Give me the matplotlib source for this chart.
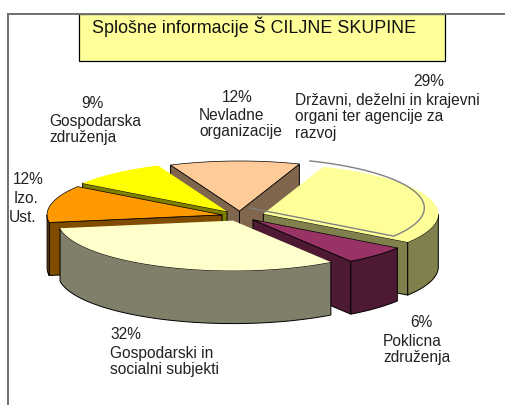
import numpy as np
import matplotlib
matplotlib.use('Agg')
import matplotlib.pyplot as plt
from matplotlib.patches import Polygon, Rectangle

plt.rcParams['font.family'] = ['Liberation Sans', 'DejaVu Sans']

title = 'Splošne informacije Š CILJNE SKUPINE'
# clockwise, starting at the 29% slice
shares = [29, 6, 32, 12, 9, 12]
pct_labels = ['29%', '6%', '32%', '12%', '9%', '12%']
names = ['Državni, deželni in krajevni\norgani ter agencije za\nrazvoj',
         'Poklicna\nzdruženja',
         'Gospodarski in\nsocialni subjekti',
         'Izo.',
         'Gospodarska\nzdruženja',
         'Nevladne\norganizacije']
top_colors = ['#FFFF99', '#993366', '#FFFFCC', '#FF9900', '#FFFF00', '#FFCC99']
side_colors = ['#80804D', '#4D1933', '#80806A', '#804D00', '#808000', '#80664D']
explode = [0.14, 0.105, 0.10, 0.105, 0.117, 0.10]

# pie geometry in pixels
cx, cy = 240, 217
rx, ry = 175, 50
depth = 53
start = 70

fig = plt.figure(figsize=(5.05, 4.06), dpi=100)
ax = fig.add_axes([0, 0, 1, 1])
ax.set_xlim(0, 505)
ax.set_ylim(406, 0)
ax.axis('off')

# frame and title box
ax.plot([8, 8], [406, 15], color='#707070', lw=1.4)
ax.plot([8, 505], [15, 15], color='#707070', lw=1.4)
ax.add_patch(Rectangle((79, 15), 366, 47, fc='#FFFF99', ec='black', lw=0.9))
ax.text(92, 27, title, fontsize=12.9, va='center', ha='left', color='#111111')


def rim(x0, y0, angles):
    a = np.radians(angles)
    return np.column_stack([x0 + rx*np.cos(a), y0 - ry*np.sin(a)])


def apex(a0, a1, e):
    mid = np.radians((a0 + a1)/2)
    return cx + e*rx*np.cos(mid), cy - e*ry*np.sin(mid)


def wedge(a0, a1, e, top, side):
    x0, y0 = apex(a0, a1, e)
    down = np.array([0, depth])
    # cut faces, only where they turn towards the viewer
    for a, vis in [(a0, np.cos(np.radians(a0)) < 0), (a1, np.cos(np.radians(a1)) > 0)]:
        if vis:
            p = rim(x0, y0, [a])[0]
            c = np.array([x0, y0])
            ax.add_patch(Polygon([c, p, p + down, c + down], fc=side, ec='black', lw=0.7, zorder=3))
    # outer wall, lower half of the rim only
    t = np.linspace(a0, a1, 120)
    t = t[np.sin(np.radians(t)) < 0]
    if len(t) > 1:
        p = rim(x0, y0, t)
        ax.add_patch(Polygon(np.vstack([p, p[::-1] + down]), fc=side, ec='black', lw=0.7, zorder=3))
    pts = np.vstack([[x0, y0], rim(x0, y0, np.linspace(a0, a1, 60))])
    ax.add_patch(Polygon(pts, fc=top, ec='black' if not top.startswith('#FFFF') else 'none', lw=0.5, zorder=3))


def ghost_points(a0, a1, e):
    # shifted copy of the big slice: rim first, then back to the tip
    x0, y0 = apex(a0, a1, e)
    x0, y0 = x0 - 14, y0 - 6
    return np.vstack([rim(x0, y0, np.linspace(a0, a1, 60)), [x0, y0]])


edges = start - np.cumsum([0] + shares)*3.6
mids = (edges[:-1] + edges[1:])/2

ax.add_patch(Polygon(ghost_points(edges[0], edges[1], explode[0]), fc='white', ec='none', zorder=3))
# back to front
for i in np.argsort(-np.sin(np.radians(mids))):
    wedge(edges[i], edges[i+1], explode[i], top_colors[i], side_colors[i])
    if i == 0:
        ax.add_patch(Polygon(ghost_points(edges[0], edges[1], explode[0]), closed=False,
                             fc='none', ec='#808080', lw=1, zorder=3))

label_pos = [(295, 82, 413), (383, 323, 410), (110, 335, 110), (14, 180, 13), (49, 103, 81), (199, 97, 222)]
for i in range(len(shares)):
    x, y, xp = label_pos[i]
    ax.text(xp, y, pct_labels[i], fontsize=11.2, va='center', ha='left', color='#222222')
    ax.text(x, y + 11, names[i], fontsize=11.2, va='top', ha='left', color='#222222', linespacing=1.12)
ax.text(9, 218, 'Ust.', fontsize=11.2, va='center', ha='left', color='#222222')

fig.savefig('out.png', dpi=100)
